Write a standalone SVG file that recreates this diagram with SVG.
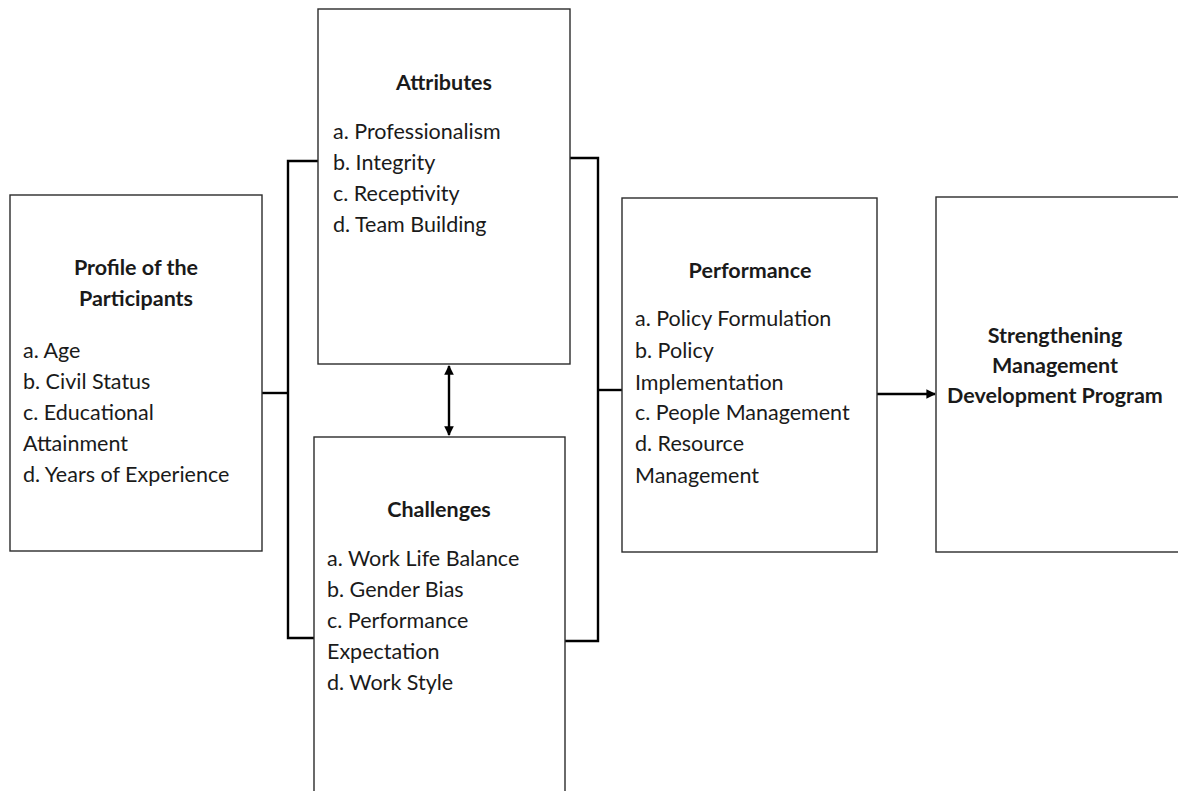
<svg xmlns="http://www.w3.org/2000/svg" width="1178" height="791" viewBox="0 0 1178 791">
  <style>
    .box { fill: #ffffff; stroke: #2b2b2b; stroke-width: 1.4; }
    .title { font-family: Lato, "Liberation Sans", sans-serif; font-size: 21.5px; font-weight: bold; fill: #1a1a1a; text-anchor: middle; }
    .item { font-family: Lato, "Liberation Sans", sans-serif; font-size: 21.5px; fill: #1a1a1a; }
    .link { fill: none; stroke: #000000; stroke-width: 2.4; }
  </style>
  <defs>
    <marker id="head" viewBox="0 0 10 10" refX="9" refY="5" markerWidth="4" markerHeight="4" orient="auto-start-reverse">
      <path d="M0,0 L10,5 L0,10 z" fill="#000000"/>
    </marker>
  </defs>
  <rect width="1178" height="791" fill="#ffffff"/>

  <!-- connectors -->
  <g id="connectors">
    <!-- left bracket joining Profile to Attributes and Challenges -->
    <path class="link" d="M262,393 H288"/>
    <path class="link" d="M318,161 H288 V638 H314"/>
    <!-- right bracket joining Attributes and Challenges to Performance -->
    <path class="link" d="M570,158 H598 V641 H565"/>
    <path class="link" d="M598,390 H622"/>
    <!-- two-way link between Attributes and Challenges -->
    <path class="link" d="M449,366 V435" marker-start="url(#head)" marker-end="url(#head)"/>
    <!-- Performance to Strengthening -->
    <path class="link" d="M877,394 H935" marker-end="url(#head)"/>
  </g>

  <g id="profile">
    <rect class="box" x="10" y="195" width="252" height="356"/>
    <text class="title" x="136" y="275">Profile of the</text>
    <text class="title" x="136" y="306">Participants</text>
    <text class="item" x="23" y="358">a. Age</text>
    <text class="item" x="23" y="389">b. Civil Status</text>
    <text class="item" x="23" y="420">c. Educational</text>
    <text class="item" x="23" y="451">Attainment</text>
    <text class="item" x="23" y="482">d. Years of Experience</text>
  </g>

  <g id="attributes">
    <rect class="box" x="318" y="9" width="252" height="355"/>
    <text class="title" x="444" y="90">Attributes</text>
    <text class="item" x="333" y="139">a. Professionalism</text>
    <text class="item" x="333" y="170">b. Integrity</text>
    <text class="item" x="333" y="201">c. Receptivity</text>
    <text class="item" x="333" y="232">d. Team Building</text>
  </g>

  <g id="challenges">
    <rect class="box" x="314" y="437" width="251" height="370"/>
    <text class="title" x="439" y="517">Challenges</text>
    <text class="item" x="327" y="566">a. Work Life Balance</text>
    <text class="item" x="327" y="597">b. Gender Bias</text>
    <text class="item" x="327" y="628">c. Performance</text>
    <text class="item" x="327" y="659">Expectation</text>
    <text class="item" x="327" y="690">d. Work Style</text>
  </g>

  <g id="performance">
    <rect class="box" x="622" y="198" width="255" height="354"/>
    <text class="title" x="750" y="278">Performance</text>
    <text class="item" x="635" y="326">a. Policy Formulation</text>
    <text class="item" x="635" y="358">b. Policy</text>
    <text class="item" x="635" y="390">Implementation</text>
    <text class="item" x="635" y="420">c. People Management</text>
    <text class="item" x="635" y="451">d. Resource</text>
    <text class="item" x="635" y="483">Management</text>
  </g>

  <g id="program">
    <rect class="box" x="936" y="197" width="250" height="355"/>
    <text class="title" x="1055" y="343">Strengthening</text>
    <text class="title" x="1055" y="373">Management</text>
    <text class="title" x="1055" y="403">Development Program</text>
  </g>
</svg>
